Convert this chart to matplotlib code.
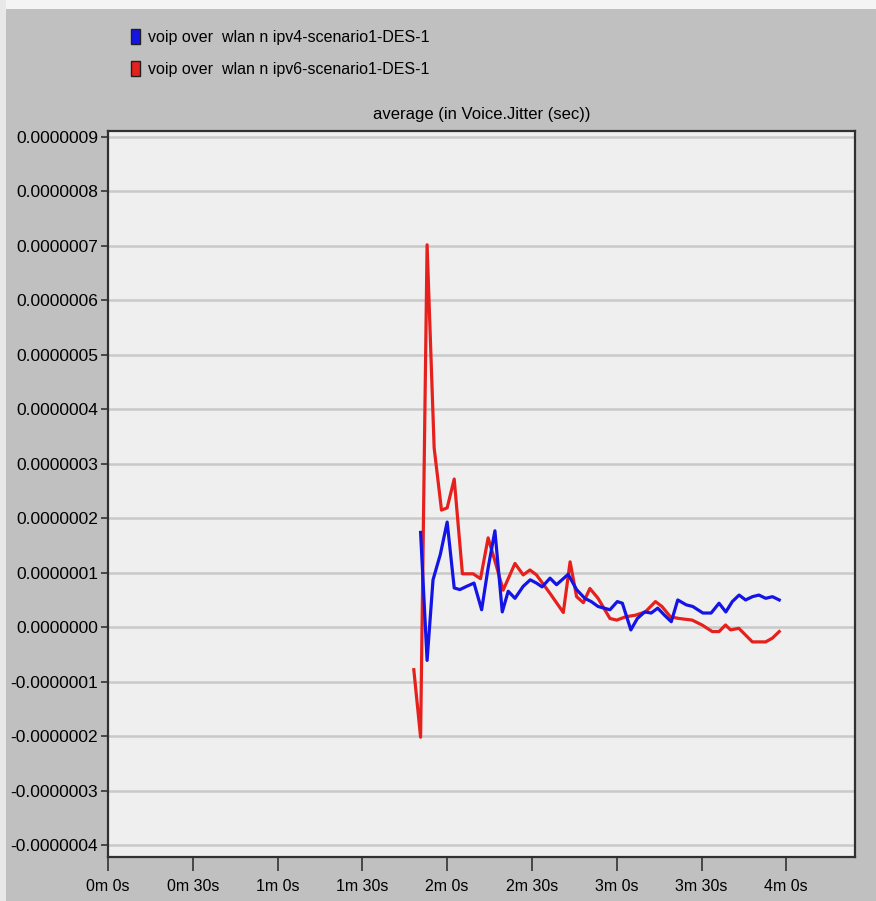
import matplotlib
matplotlib.use("Agg")
import matplotlib.pyplot as plt
from matplotlib.patches import Patch, Rectangle
from matplotlib.ticker import FixedLocator, FuncFormatter

plt.rcParams['font.family'] = ['Liberation Sans Narrow', 'Liberation Sans', 'DejaVu Sans']

# tiempos (s) y valores de jitter (1e-7 s)
t_ipv4 = [110.6, 112.9, 115.0, 117.6, 120.0, 122.5, 124.5, 126.9, 129.5, 132.2,
          134.5, 136.9, 139.5, 141.6, 144.0, 146.9, 149.4, 151.6, 153.6, 156.4,
          158.7, 162.8, 165.8, 168.7, 171.0, 173.4, 177.6, 180.2, 182.0, 185.0,
          187.3, 189.9, 192.2, 194.5, 196.9, 199.3, 201.6, 204.6, 206.9, 210.5,
          213.4, 216.2, 218.6, 220.9, 223.3, 225.6, 228.0, 230.3, 232.7, 235.1,
          237.5]
v_ipv4 = [1.74, -0.61, 0.87, 1.34, 1.93, 0.72, 0.69, 0.75, 0.81, 0.32,
          1.09, 1.77, 0.28, 0.66, 0.53, 0.75, 0.87, 0.81, 0.74, 0.90,
          0.78, 0.97, 0.69, 0.53, 0.47, 0.38, 0.32, 0.47, 0.44, -0.05,
          0.16, 0.28, 0.26, 0.35, 0.22, 0.10, 0.50, 0.41, 0.38, 0.26,
          0.26, 0.44, 0.28, 0.47, 0.59, 0.50, 0.56, 0.59, 0.53, 0.56,
          0.50]

t_ipv6 = [108.2, 110.6, 112.9, 115.4, 118.0, 120.0, 122.5, 125.4, 129.2, 131.8,
          134.5, 137.5, 139.8, 144.0, 146.9, 149.3, 151.6, 156.4, 161.1, 163.5,
          165.8, 168.2, 170.5, 173.4, 177.6, 180.0, 183.1, 186.6, 190.1, 193.7,
          196.0, 199.0, 202.0, 206.7, 210.2, 213.8, 216.2, 218.5, 220.3, 223.2,
          228.0, 232.7, 235.1, 237.5]
v_ipv6 = [-0.78, -2.02, 7.02, 3.29, 2.15, 2.19, 2.72, 0.98, 0.98, 0.89,
          1.64, 1.11, 0.68, 1.17, 0.96, 1.05, 0.96, 0.62, 0.27, 1.20,
          0.56, 0.45, 0.71, 0.53, 0.16, 0.13, 0.19, 0.22, 0.28, 0.47,
          0.38, 0.19, 0.16, 0.13, 0.04, -0.08, -0.08, 0.04, -0.05, -0.02,
          -0.27, -0.27, -0.20, -0.08]

x_ticks = [0, 30, 60, 90, 120, 150, 180, 210, 240]
x_labels = ["0m 0s", "0m 30s", "1m 0s", "1m 30s", "2m 0s", "2m 30s",
            "3m 0s", "3m 30s", "4m 0s"]
y_ticks = [9, 8, 7, 6, 5, 4, 3, 2, 1, 0, -1, -2, -3, -4]

nombres = ["voip over  wlan n ipv4-scenario1-DES-1",
           "voip over  wlan n ipv6-scenario1-DES-1"]
azul = "#1414e6"
rojo = "#e6201c"

fig = plt.figure(figsize=(8.76, 9.01), dpi=100, facecolor="#c0c0c0")
# borde blanco arriba e izquierda como en la captura
fig.patches.append(Rectangle((0, 0.99), 1, 0.01, transform=fig.transFigure,
                             facecolor="#f4f4f4", edgecolor="none"))
fig.patches.append(Rectangle((0, 0), 0.007, 1, transform=fig.transFigure,
                             facecolor="#e8e8e8", edgecolor="none"))

ax = fig.add_axes([0.1233, 0.0488, 0.8527, 0.8058])
ax.set_facecolor("#efefef")

e = 1e-7
ax.plot(t_ipv6, [v * e for v in v_ipv6], color=rojo, lw=2.3, zorder=3)
ax.plot(t_ipv4, [v * e for v in v_ipv4], color=azul, lw=2.3, zorder=4)

ax.set_xlim(0, 264.3)
ax.set_ylim(-4.22e-7, 9.11e-7)

ax.xaxis.set_major_locator(FixedLocator(x_ticks))
ax.set_xticklabels(x_labels)
ax.yaxis.set_major_locator(FixedLocator([y * e for y in y_ticks]))
ax.yaxis.set_major_formatter(FuncFormatter(lambda v, p: "%.7f" % v))

ax.grid(axis="y", color="#c9c9c9", lw=1.8)
ax.set_axisbelow(True)
ax.tick_params(axis="y", length=5, width=1.2, color="#333333", labelsize=12.5, pad=2)
ax.tick_params(axis="x", length=10, width=1.2, color="#333333", labelsize=11.5, pad=6)
for s in ax.spines.values():
    s.set_color("#303030")
    s.set_linewidth(1.6)

ax.set_title("average (in Voice.Jitter (sec))", fontsize=12, pad=9)

handles = [Patch(facecolor=azul, edgecolor="#202020"),
           Patch(facecolor=rojo, edgecolor="#202020")]
fig.legend(handles, nombres, loc="upper left", bbox_to_anchor=(0.142, 0.975),
           frameon=False, fontsize=11.5, handlelength=0.6, handleheight=1.1,
           handletextpad=0.45, labelspacing=1.0, borderaxespad=0)

fig.savefig("out.png", dpi=100, facecolor=fig.get_facecolor())
